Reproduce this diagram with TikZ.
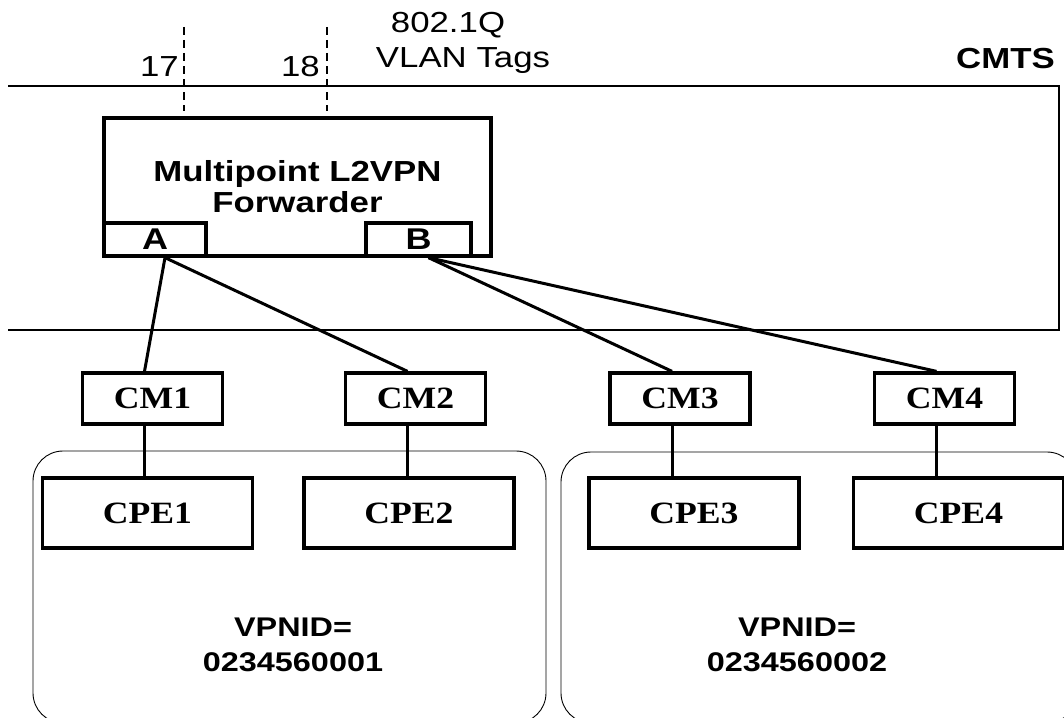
\documentclass[tikz,border=0pt]{standalone}
\usepackage{fontspec}
\setmainfont{Liberation Serif}
\newfontfamily\sansfnt[FakeStretch=1.2]{Liberation Sans}
\newfontfamily\seriffnt[FakeStretch=1.15]{Liberation Serif}
\usetikzlibrary{positioning, calc}

\begin{document}
\begin{tikzpicture}[
  x=1pt, y=-1pt,
  box/.style={draw, line width=3.3pt, inner sep=0pt},
  fwdbox/.style={box, minimum width=387pt, minimum height=138pt, align=center, font=\sansfnt\bfseries\fontsize{29}{31}\selectfont},
  portbox/.style={box, minimum height=33pt, font=\sansfnt\bfseries\fontsize{30}{31}\selectfont},
  cmbox/.style={box, minimum width=140pt, minimum height=51pt, font=\seriffnt\bfseries\fontsize{31}{32}\selectfont},
  cpebox/.style={box, minimum width=210pt, minimum height=70pt, font=\seriffnt\bfseries\fontsize{31}{32}\selectfont},
  tagtext/.style={inner sep=0pt, font=\sansfnt\fontsize{29}{31}\selectfont},
  vpntext/.style={align=center, inner sep=0pt, font=\sansfnt\bfseries\fontsize{27}{35}\selectfont},
  link/.style={line width=3pt},
  vlan/.style={line width=2.4pt, dash pattern=on 8pt off 5pt},
  frame/.style={line width=1.8pt},
  group/.style={line width=0.9pt, rounded corners=30pt}
]
  \useasboundingbox (0,0) rectangle (1064,717);
  \clip (0,0) rectangle (1064,717);

  \draw[frame] (8,86) -| (1059,330) -- (8,330);
  \node[tagtext, font=\sansfnt\bfseries\fontsize{29}{31}\selectfont, anchor=base east] (cmts) at (1055,68) {CMTS};

  \node[fwdbox] (fwd) at (297.5,187) {Multipoint L2VPN\\Forwarder};
  \node[portbox, minimum width=102pt, anchor=south west] (porta) at (fwd.south west) {A};
  \node[portbox, minimum width=105pt, anchor=south east] (portb) at ([xshift=-20pt]fwd.south east) {B};

  \node[tagtext, anchor=base] (dot1q) at (448,33) {802.1Q};
  \node[tagtext, anchor=base] (vlantags) at (463,67) {VLAN Tags};
  \node[tagtext, anchor=base east] (tag17) at (179,76) {17};
  \node[tagtext, anchor=base east] (tag18) at (320,76) {18};
  \coordinate (v17) at (184,27);
  \coordinate (v18) at (327,27);
  \draw[vlan, shorten >=5pt] (v17) -- (v17 |- fwd.north);
  \draw[vlan, shorten >=5pt] (v18) -- (v18 |- fwd.north);

  \draw[group] (33,451) rectangle (546,723);
  \draw[group] (561,452) rectangle (1077,723);

  \node[cmbox] (cm1) at (152.5,398.5) {CM1};
  \node[cmbox] (cm2) at (415.5,398.5) {CM2};
  \node[cmbox] (cm3) at (680,398.5) {CM3};
  \node[cmbox] (cm4) at (944.5,398.5) {CM4};

  \node[cpebox] (cpe1) at (147.5,513) {CPE1};
  \node[cpebox] (cpe2) at (409,513) {CPE2};
  \node[cpebox] (cpe3) at (694,513) {CPE3};
  \node[cpebox] (cpe4) at (958.5,513) {CPE4};

  \node[vpntext] (vpn1) at (293,645) {VPNID=\\0234560001};
  \node[vpntext] (vpn2) at (797,645) {VPNID=\\0234560002};

  \foreach \n/\p in {1/porta, 2/porta, 3/portb, 4/portb}
    \draw[link] ([xshift=10pt]\p.south) -- ([xshift=-8pt]cm\n.north);
  \foreach \n in {1,...,4}
    \draw[link] (cm\n.south) ++(-8,0) coordinate (drop\n) -- (drop\n |- cpe\n.north);
\end{tikzpicture}
\end{document}
